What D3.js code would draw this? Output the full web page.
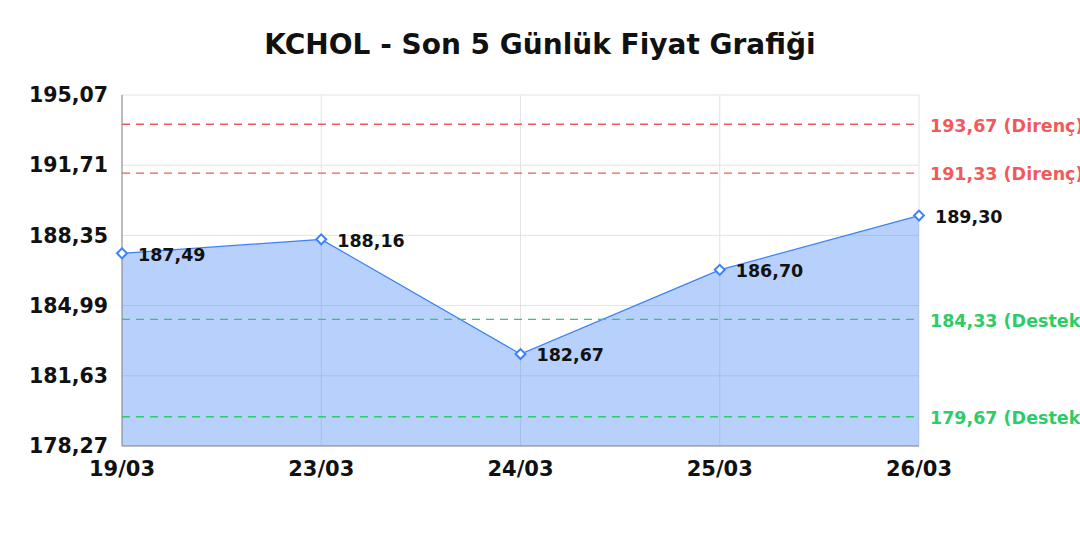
<!DOCTYPE html>
<html>
<head>
<meta charset="utf-8">
<script src="https://cdn.jsdelivr.net/npm/d3@7"></script>
<style>
body{margin:0;background:#fff;}
text{font-family:"DejaVu Sans",sans-serif;font-weight:bold;}
</style>
</head>
<body>
<div class="chart"></div>
<script>
let dates=['19/03','23/03','24/03','25/03','26/03']
let prices=[187.49,188.16,182.67,186.70,189.30]
let yTicks=[178.27,181.63,184.99,188.35,191.71,195.07]
let resist=[193.67,191.33]
let support=[184.33,179.67]

let w=1080, h=540
let padL=122, padR=919, padT=95, padB=446
let fmt=(v)=>v.toFixed(2).replace('.',',')

let svg=d3.select('.chart').append('svg').attr('width',w).attr('height',h)
let x=d3.scalePoint().domain(dates).range([padL,padR])
let y=d3.scaleLinear().domain([178.27,195.07]).range([padB,padT])

svg.append('text').text('KCHOL - Son 5 Günlük Fiyat Grafiği')
  .attr('x',540).attr('y',54).attr('text-anchor','middle').style('font-size','28px').attr('fill','#111')

// grid
svg.append('g').selectAll('line').data(yTicks).enter().append('line')
  .attr('x1',padL).attr('x2',padR).attr('y1',d=>y(d)).attr('y2',d=>y(d))
  .attr('stroke','#e3e3e3').attr('stroke-width',1)
svg.append('g').selectAll('line').data(dates).enter().append('line')
  .attr('x1',d=>x(d)).attr('x2',d=>x(d)).attr('y1',padT).attr('y2',padB)
  .attr('stroke','#e3e3e3').attr('stroke-width',1)

// area + line
let area=d3.area().x((d,i)=>x(dates[i])).y0(padB).y1(d=>y(d))
svg.append('path').datum(prices).attr('d',area).attr('fill','#3b82f6').attr('fill-opacity',0.37)
let line=d3.line().x((d,i)=>x(dates[i])).y(d=>y(d))
svg.append('path').datum(prices).attr('d',line).attr('fill','none').attr('stroke','#3b82f6').attr('stroke-width',1.2)

// reference lines
let refs=resist.map(v=>({v:v,t:'Direnç',c:'#f05a5a'})).concat(support.map(v=>({v:v,t:'Destek',c:'#2ecc68'})))
svg.append('g').selectAll('line').data(refs).enter().append('line')
  .attr('x1',padL).attr('x2',padR).attr('y1',d=>y(d.v)).attr('y2',d=>y(d.v))
  .attr('stroke',d=>d.c).attr('stroke-width',1.3).attr('stroke-dasharray','8,6')
svg.append('g').selectAll('text').data(refs).enter().append('text')
  .text(d=>fmt(d.v)+' ('+d.t+')').attr('x',930).attr('y',d=>y(d.v)+1).attr('dy','0.36em')
  .attr('fill',d=>d.c).style('font-size','17.5px')

// axes
svg.append('line').attr('x1',padL).attr('x2',padL).attr('y1',padT).attr('y2',padB).attr('stroke','#888')
svg.append('line').attr('x1',padL).attr('x2',padR).attr('y1',padB).attr('y2',padB).attr('stroke','#888')
svg.append('g').selectAll('text').data(yTicks).enter().append('text')
  .text(d=>fmt(d)).attr('x',108).attr('y',d=>y(d)).attr('dy','0.35em').attr('text-anchor','end')
  .style('font-size','20.5px').attr('fill','#111')
svg.append('g').selectAll('text').data(dates).enter().append('text')
  .text(d=>d).attr('x',d=>x(d)).attr('y',476).attr('text-anchor','middle')
  .style('font-size','21px').attr('fill','#111')

// markers + labels
svg.append('g').selectAll('rect').data(prices).enter().append('rect')
  .attr('x',-3.5).attr('y',-3.5).attr('width',7).attr('height',7)
  .attr('transform',(d,i)=>'translate('+x(dates[i])+','+y(d)+') rotate(45)')
  .attr('fill','#fff').attr('stroke','#3b82f6').attr('stroke-width',2)
svg.append('g').selectAll('text').data(prices).enter().append('text')
  .text(d=>fmt(d)).attr('x',(d,i)=>x(dates[i])+16).attr('y',d=>y(d)+1).attr('dy','0.36em')
  .style('font-size','17.5px').attr('fill','#111')
</script>
</body>
</html>
